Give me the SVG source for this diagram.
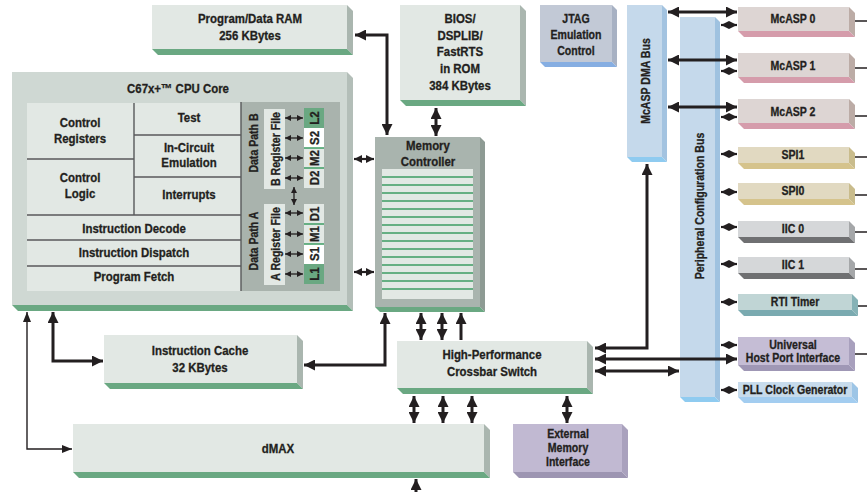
<svg xmlns="http://www.w3.org/2000/svg" width="867" height="492" viewBox="0 0 867 492">
<defs>
<style>
.t{font-family:"Liberation Sans",Arial,sans-serif;font-weight:bold;font-size:13px;fill:#231f20;stroke:#231f20;stroke-width:0.3;text-anchor:middle;transform:scaleX(0.88);transform-box:fill-box;transform-origin:center}
.s{font-size:12px}
.fg{fill:#e2e8e4}.sg{fill:#aab6af}.bg{fill:#6aa882}
.ln{stroke:#58595b;stroke-width:1.4;fill:none}
.gl{stroke:#3d9c63;stroke-width:1.5}
.c3{fill:none;stroke:#231f20;stroke-width:3;marker-start:url(#h3);marker-end:url(#h3)}
.c3e{fill:none;stroke:#231f20;stroke-width:3;marker-end:url(#h3)}
.c2{fill:none;stroke:#231f20;stroke-width:2.2;marker-start:url(#h2);marker-end:url(#h2)}
.c1{fill:none;stroke:#231f20;stroke-width:1.4;marker-start:url(#h1);marker-end:url(#h1)}
.c0{fill:none;stroke:#231f20;stroke-width:1.3;marker-start:url(#h0);marker-end:url(#h0)}
.rl{stroke:#231f20;stroke-width:1.5}
</style>
<marker id="h3" viewBox="0 0 10 10" refX="10" refY="5" markerWidth="11" markerHeight="11" markerUnits="userSpaceOnUse" orient="auto-start-reverse"><path d="M0,0L10,5L0,10z" fill="#231f20"/></marker>
<marker id="h2" viewBox="0 0 10 10" refX="10" refY="5" markerWidth="8" markerHeight="8" markerUnits="userSpaceOnUse" orient="auto-start-reverse"><path d="M0,0L10,5L0,10z" fill="#231f20"/></marker>
<marker id="h1" viewBox="0 0 10 8" refX="10" refY="4" markerWidth="10" markerHeight="8" markerUnits="userSpaceOnUse" orient="auto-start-reverse"><path d="M0,0L10,4L0,8z" fill="#231f20"/></marker>
<marker id="h0" viewBox="0 0 10 10" refX="10" refY="5" markerWidth="6" markerHeight="6" markerUnits="userSpaceOnUse" orient="auto-start-reverse"><path d="M0,0L10,5L0,10z" fill="#231f20"/></marker>
</defs>
<rect width="867" height="492" fill="#ffffff"/>

<g id="ram">
<rect class="fg" x="152" y="5" width="195" height="44"/>
<polygon class="sg" points="347,5 353,11 353,55 347,49"/>
<polygon class="bg" points="152,49 347,49 353,55 158,55"/>
<text class="t" x="250" y="23.5">Program/Data RAM</text>
<text class="t" x="250" y="40.5">256 KBytes</text>
</g>

<g id="bios">
<rect class="fg" x="400" y="5" width="120" height="95"/>
<polygon class="sg" points="520,5 526,11 526,106 520,100"/>
<polygon class="bg" points="400,100 520,100 526,106 406,106"/>
<text class="t" x="460" y="23.5">BIOS/</text>
<text class="t" x="460" y="40.5">DSPLIB/</text>
<text class="t" x="460" y="56.5">FastRTS</text>
<text class="t" x="460" y="73.5">in ROM</text>
<text class="t" x="460" y="90.5">384 KBytes</text>
</g>

<g id="jtag">
<rect x="540" y="5" width="72" height="57" fill="#c2c9d6"/>
<polygon points="612,5 617,10 617,67 612,62" fill="#a7b1c3"/>
<polygon points="540,62 612,62 617,67 545,67" fill="#86aee2"/>
<text class="t s" x="576" y="23">JTAG</text>
<text class="t s" x="576" y="39">Emulation</text>
<text class="t s" x="576" y="55">Control</text>
</g>

<g id="cpu-core">
<rect x="12" y="72" width="335" height="233" fill="#cfd8d3"/>
<polygon points="347,72 353,78 353,311 347,305" fill="#b3beb8"/>
<polygon class="bg" points="12,305 347,305 353,311 18,311"/>
<text class="t" x="178" y="93.5">C67x+™ CPU Core</text>
<rect class="fg" x="27" y="103" width="214" height="188"/>
<rect x="241" y="102" width="99" height="189" fill="#a9b3ad"/>
<line class="ln" x1="241" y1="102" x2="241" y2="291"/>
<line class="ln" x1="134" y1="103" x2="134" y2="215"/>
<line class="ln" x1="27" y1="159" x2="134" y2="159"/>
<line class="ln" x1="134" y1="135" x2="241" y2="135"/>
<line class="ln" x1="134" y1="177" x2="241" y2="177"/>
<line class="ln" x1="27" y1="215" x2="241" y2="215"/>
<line class="ln" x1="27" y1="240" x2="241" y2="240" stroke="#7a7c7e"/>
<line class="ln" x1="27" y1="266" x2="241" y2="266" stroke="#7a7c7e"/>
<text class="t" x="80" y="127.5">Control</text>
<text class="t" x="80" y="143.5">Registers</text>
<text class="t" x="189" y="122.5">Test</text>
<text class="t" x="189" y="152.5">In-Circuit</text>
<text class="t" x="189" y="167.5">Emulation</text>
<text class="t" x="80" y="182.5">Control</text>
<text class="t" x="80" y="198.5">Logic</text>
<text class="t" x="189" y="199.5">Interrupts</text>
<text class="t" x="134" y="233.5">Instruction Decode</text>
<text class="t" x="134" y="257.5">Instruction Dispatch</text>
<text class="t" x="134" y="281.5">Program Fetch</text>
<rect class="fg" x="264" y="109" width="21" height="80"/>
<rect class="fg" x="264" y="204" width="21" height="81"/>
<rect class="bg" x="304" y="108" width="20" height="20"/>
<rect x="304" y="128" width="20" height="20" fill="#ffffff"/>
<rect class="fg" x="304" y="148" width="20" height="20"/>
<rect class="fg" x="304" y="168" width="20" height="20"/>
<rect class="fg" x="304" y="204" width="20" height="20"/>
<rect class="fg" x="304" y="224" width="20" height="20"/>
<rect x="304" y="244" width="20" height="20" fill="#ffffff"/>
<rect class="bg" x="304" y="264" width="20" height="20"/>
<line class="gl" x1="304" y1="148" x2="324" y2="148"/>
<line class="gl" x1="304" y1="168" x2="324" y2="168"/>
<line class="gl" x1="304" y1="224" x2="324" y2="224"/>
<line class="gl" x1="304" y1="244" x2="324" y2="244"/>
<g transform="translate(253,143) rotate(-90)"><text class="t s" x="0" y="4.5">Data Path B</text></g>
<g transform="translate(253,241) rotate(-90)"><text class="t s" x="0" y="4.5">Data Path A</text></g>
<g transform="translate(275,149) rotate(-90)"><text class="t s" x="0" y="4.5">B Register File</text></g>
<g transform="translate(275,244) rotate(-90)"><text class="t s" x="0" y="4.5">A Register File</text></g>
<g transform="translate(314,118) rotate(-90)"><text class="t" x="0" y="4.5">L2</text></g>
<g transform="translate(314,138) rotate(-90)"><text class="t" x="0" y="4.5">S2</text></g>
<g transform="translate(314,158) rotate(-90)"><text class="t" x="0" y="4.5">M2</text></g>
<g transform="translate(314,178) rotate(-90)"><text class="t" x="0" y="4.5">D2</text></g>
<g transform="translate(314,214) rotate(-90)"><text class="t" x="0" y="4.5">D1</text></g>
<g transform="translate(314,234) rotate(-90)"><text class="t" x="0" y="4.5">M1</text></g>
<g transform="translate(314,254) rotate(-90)"><text class="t" x="0" y="4.5">S1</text></g>
<g transform="translate(314,274) rotate(-90)"><text class="t" x="0" y="4.5">L1</text></g>
</g>

<g id="memory-controller">
<rect x="375" y="137" width="105" height="170" fill="#a9b4ae"/>
<polygon points="480,137 485,142 485,312 480,307" fill="#8e9b94"/>
<polygon class="bg" points="375,307 480,307 485,312 380,312"/>
<text class="t" x="428" y="150.5">Memory</text>
<text class="t" x="428" y="166.5">Controller</text>
<rect class="fg" x="382" y="169" width="91" height="130"/>
<g class="gl">
<line x1="382" y1="177" x2="473" y2="177"/><line x1="382" y1="185" x2="473" y2="185"/>
<line x1="382" y1="193" x2="473" y2="193"/><line x1="382" y1="201" x2="473" y2="201"/>
<line x1="382" y1="209" x2="473" y2="209"/><line x1="382" y1="217" x2="473" y2="217"/>
<line x1="382" y1="225" x2="473" y2="225"/><line x1="382" y1="233" x2="473" y2="233"/>
<line x1="382" y1="241" x2="473" y2="241"/><line x1="382" y1="249" x2="473" y2="249"/>
<line x1="382" y1="257" x2="473" y2="257"/><line x1="382" y1="265" x2="473" y2="265"/>
<line x1="382" y1="273" x2="473" y2="273"/><line x1="382" y1="281" x2="473" y2="281"/>
<line x1="382" y1="289" x2="473" y2="289"/>
</g>
</g>

<g id="instruction-cache">
<rect class="fg" x="104" y="335" width="193" height="48"/>
<polygon class="sg" points="297,335 303,341 303,389 297,383"/>
<polygon class="bg" points="104,383 297,383 303,389 110,389"/>
<text class="t" x="200" y="355.5">Instruction Cache</text>
<text class="t" x="200" y="372.5">32 KBytes</text>
</g>

<g id="crossbar">
<rect class="fg" x="397" y="341" width="190" height="47"/>
<polygon class="sg" points="587,341 593,347 593,394 587,388"/>
<polygon class="bg" points="397,388 587,388 593,394 403,394"/>
<text class="t" x="492" y="359.5">High-Performance</text>
<text class="t" x="492" y="376.5">Crossbar Switch</text>
</g>

<g id="dmax">
<rect class="fg" x="73" y="424" width="411" height="48"/>
<polygon class="sg" points="484,424 490,430 490,478 484,472"/>
<polygon class="bg" points="73,472 484,472 490,478 79,478"/>
<text class="t" x="278" y="453.5">dMAX</text>
</g>

<g id="emif">
<rect x="513" y="424" width="109" height="48" fill="#c1b9d2"/>
<polygon points="622,424 628,430 628,478 622,472" fill="#a9a1bd"/>
<polygon points="513,472 622,472 628,478 519,478" fill="#9d95b2"/>
<text class="t s" x="568" y="438">External</text>
<text class="t s" x="568" y="452">Memory</text>
<text class="t s" x="568" y="466">Interface</text>
</g>

<g id="mcasp-dma-bus">
<rect x="627" y="5" width="35" height="152" fill="#c5d9eb"/>
<polygon points="662,5 667,10 667,162 662,157" fill="#a3c3e0"/>
<polygon points="627,157 662,157 667,162 632,162" fill="#8fcbf0"/>
<g transform="translate(645,81) rotate(-90)"><text class="t s" x="0" y="4.5">McASP DMA Bus</text></g>
</g>

<g id="peripheral-bus">
<rect x="680" y="17" width="35" height="380" fill="#c5d9eb"/>
<polygon points="715,17 720,22 720,402 715,397" fill="#9fc2e0"/>
<polygon points="680,397 715,397 720,402 685,402" fill="#8fcbf0"/>
<g transform="translate(699,206) rotate(-90)"><text class="t s" x="0" y="4.5">Peripheral Configuration Bus</text></g>
</g>

<g id="mcasp0">
<rect x="738" y="7" width="111" height="24" fill="#ddd5d3"/>
<polygon points="849,7 855,13 855,37 849,31" fill="#bcaca6"/>
<polygon points="738,31 849,31 855,37 744,37" fill="#d59cab"/>
<text class="t s" x="793" y="23">McASP 0</text>
</g>
<g id="mcasp1">
<rect x="738" y="53" width="111" height="24" fill="#ddd5d3"/>
<polygon points="849,53 855,59 855,83 849,77" fill="#bcaca6"/>
<polygon points="738,77 849,77 855,83 744,83" fill="#d59cab"/>
<text class="t s" x="793" y="70">McASP 1</text>
</g>
<g id="mcasp2">
<rect x="738" y="99" width="111" height="24" fill="#ddd5d3"/>
<polygon points="849,99 855,105 855,129 849,123" fill="#bcaca6"/>
<polygon points="738,123 849,123 855,129 744,129" fill="#d59cab"/>
<text class="t s" x="793" y="116">McASP 2</text>
</g>
<g id="spi1">
<rect x="738" y="147" width="111" height="16" fill="#e1d9c1"/>
<polygon points="849,147 855,153 855,169 849,163" fill="#c9bc8c"/>
<polygon points="738,163 849,163 855,169 744,169" fill="#d5c38c"/>
<text class="t s" x="793" y="159.5">SPI1</text>
</g>
<g id="spi0">
<rect x="738" y="183" width="111" height="16" fill="#e1d9c1"/>
<polygon points="849,183 855,189 855,205 849,199" fill="#c9bc8c"/>
<polygon points="738,199 849,199 855,205 744,205" fill="#d5c38c"/>
<text class="t s" x="793" y="195.5">SPI0</text>
</g>
<g id="iic0">
<rect x="738" y="221" width="111" height="16" fill="#d5d7d9"/>
<polygon points="849,221 855,227 855,243 849,237" fill="#a5a7a9"/>
<polygon points="738,237 849,237 855,243 744,243" fill="#6f7072"/>
<text class="t s" x="793" y="233">IIC 0</text>
</g>
<g id="iic1">
<rect x="738" y="257" width="111" height="16" fill="#d5d7d9"/>
<polygon points="849,257 855,263 855,279 849,273" fill="#a5a7a9"/>
<polygon points="738,273 849,273 855,279 744,279" fill="#6f7072"/>
<text class="t s" x="793" y="269.5">IIC 1</text>
</g>
<g id="rti-timer">
<rect x="738" y="294" width="114" height="16" fill="#c0d5d5"/>
<polygon points="852,294 858,300 858,316 852,310" fill="#86b2b6"/>
<polygon points="738,310 852,310 858,316 744,316" fill="#7aaab0"/>
<text class="t s" x="795" y="306.5">RTI Timer</text>
</g>
<g id="uhpi">
<rect x="738" y="337" width="111" height="28" fill="#c5bdd5"/>
<polygon points="849,337 855,343 855,371 849,365" fill="#a8a0bd"/>
<polygon points="738,365 849,365 855,371 744,371" fill="#9f97b5"/>
<text class="t s" x="793" y="349.5">Universal</text>
<text class="t s" x="793" y="362">Host Port Interface</text>
</g>
<g id="pll">
<rect x="738" y="382" width="114" height="15" fill="#c7dbec"/>
<polygon points="852,382 858,388 858,403 852,397" fill="#9dc5e6"/>
<polygon points="738,397 852,397 858,403 744,403" fill="#a3cdf0"/>
<text class="t s" x="795" y="394">PLL Clock Generator</text>
</g>

<g id="connectors">
<path class="c3" d="M387,135 V35 H355"/>
<path class="c3" d="M436,108 V136"/>
<path class="c2" d="M354,159 H374"/>
<path class="c2" d="M354,272 H374"/>
<path class="c0" d="M285,118 H303"/>
<path class="c0" d="M285,138 H303"/>
<path class="c0" d="M285,158 H303"/>
<path class="c0" d="M285,178 H303"/>
<path class="c0" d="M285,213 H303"/>
<path class="c0" d="M285,234 H303"/>
<path class="c0" d="M285,254 H303"/>
<path class="c0" d="M285,274 H303"/>
<path class="c0" d="M294,187 V205"/>
<path class="c3" d="M53,312 V361 H103"/>
<path class="c1" d="M27,312 V449 H72"/>
<path class="c3" d="M385,313 V365 H304"/>
<path class="c3" d="M421,313 V340"/>
<path class="c3" d="M442,313 V340"/>
<path class="c3e" d="M461,340 V313"/>
<path class="c3" d="M414,396 V423"/>
<path class="c3" d="M443,396 V423"/>
<path class="c3" d="M472,396 V423"/>
<path class="c3" d="M567,396 V423"/>
<path class="c3e" d="M416,492 V479"/>
<path class="c3" d="M595,348 H647 V164"/>
<path class="c3" d="M595,359 H737"/>
<path class="c3" d="M595,371 H679"/>
<path class="c3" d="M668,12 H737"/>
<path class="c3" d="M668,60 H737"/>
<path class="c3" d="M668,107 H737"/>
<path class="c2" d="M721,25 H737"/>
<path class="c2" d="M721,71 H737"/>
<path class="c2" d="M721,117 H737"/>
<path class="c2" d="M721,154 H737"/>
<path class="c2" d="M721,192 H737"/>
<path class="c2" d="M721,227 H737"/>
<path class="c2" d="M721,264 H737"/>
<path class="c2" d="M721,302 H737"/>
<path class="c2" d="M721,345 H737"/>
<path class="c2" d="M721,390 H737"/>
<line class="rl" x1="855" y1="21" x2="867" y2="21"/>
<line class="rl" x1="855" y1="68" x2="867" y2="68"/>
<line class="rl" x1="855" y1="116" x2="867" y2="116"/>
<line class="rl" x1="855" y1="157" x2="867" y2="157"/>
<line class="rl" x1="855" y1="195" x2="867" y2="195"/>
<line class="rl" x1="855" y1="232" x2="867" y2="232"/>
<line class="rl" x1="855" y1="269" x2="867" y2="269"/>
<line class="rl" x1="858" y1="306" x2="867" y2="306"/>
<line class="rl" x1="855" y1="354" x2="867" y2="354"/>
</g>
</svg>
